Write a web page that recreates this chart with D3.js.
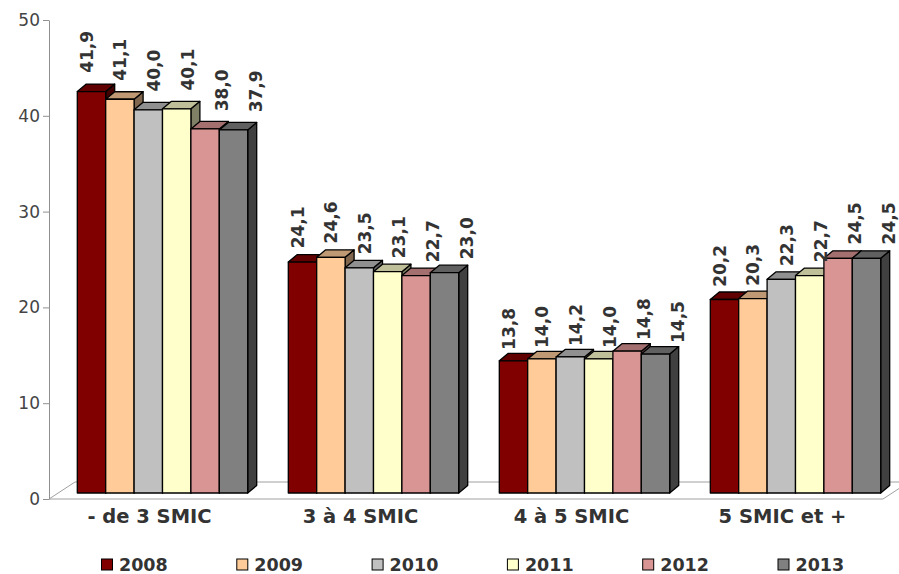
<!DOCTYPE html>
<html>
<head>
<meta charset="utf-8">
<script src="https://cdn.jsdelivr.net/npm/d3@7"></script>
<style>
  html, body { margin: 0; padding: 0; background: #fff; }
  svg { display: block; font-family: "DejaVu Sans", Verdana, sans-serif; }
</style>
</head>
<body>
<svg id="chart" width="899" height="574"></svg>
<script>
// Répartition par tranche de salaire (en % ), 2008 à 2013
const categories = ["- de 3 SMIC", "3 à 4 SMIC", "4 à 5 SMIC", "5 SMIC et +"];
const years = ["2008", "2009", "2010", "2011", "2012", "2013"];
const colors = ["#800000", "#FFCC99", "#C0C0C0", "#FFFFCC", "#D99594", "#808080"];
const v2008 = [41.9, 24.1, 13.8, 20.2];
const v2009 = [41.1, 24.6, 14.0, 20.3];
const v2010 = [40.0, 23.5, 14.2, 22.3];
const v2011 = [40.1, 23.1, 14.0, 22.7];
const v2012 = [38.0, 22.7, 14.8, 24.5];
const v2013 = [37.9, 23.0, 14.5, 24.5];
const yTicks = [0, 10, 20, 30, 40, 50];

const series = [v2008, v2009, v2010, v2011, v2012, v2013];

const svg = d3.select("#chart");

// Scales
const y = d3.scaleLinear().domain([0, 50]).range([499, 20]);
const x = d3.scaleBand().domain(categories).range([44, 888]);
const xIn = d3.scaleBand().domain(years).range([33.3, 33.3 + 170.4]);
// labels sit on the projected top of each column
const xLab = d3.scaleLinear().domain([0, 5]).range([42.5, 42.5 + 169]);
const yLab = d3.scaleLinear().domain([0, 50]).range([486, 486 - 493]);

// 3D depth of the floor and of the columns
const floorDx = 26, floorDy = -17;
const barDx = 9, barDy = -7.5;
const barLift = 6;

function shade(c, k) {
  const r = d3.rgb(c);
  return d3.rgb(r.r * k, r.g * k, r.b * k).formatHex();
}

// Floor
const fx0 = 49, fx1 = 883, fy = y(0);
svg.append("path")
  .attr("d", `M${fx0},${fy} L${fx1},${fy} L${fx1 + floorDx},${fy + floorDy} L${fx0 + floorDx},${fy + floorDy} Z`)
  .attr("fill", "none")
  .attr("stroke", "#a0a0a0")
  .attr("stroke-width", 1);

// Value axis
const axis = svg.append("g")
  .attr("transform", "translate(49,0)")
  .call(d3.axisLeft(y).tickValues(yTicks).tickSize(6).tickPadding(3).tickSizeOuter(0));
axis.select(".domain").attr("stroke", "#909090");
axis.selectAll(".tick line").attr("stroke", "#909090");
axis.selectAll(".tick text")
  .attr("font-size", "17px")
  .attr("fill", "#444")
  .attr("font-family", "DejaVu Sans, Verdana, sans-serif");

// Columns
const bars = svg.append("g");
categories.forEach((cat, ci) => {
  years.forEach((yr, si) => {
    const v = series[si][ci];
    const x0 = x(cat) + xIn(yr);
    const w = xIn.bandwidth();
    const yt = y(v) - barLift;
    const yb = y(0) - barLift;
    const col = colors[si];
    const g = bars.append("g")
      .attr("stroke", "#000")
      .attr("stroke-width", 1.3)
      .attr("stroke-linejoin", "round");
    // right side
    g.append("path")
      .attr("d", `M${x0 + w},${yt} L${x0 + w + barDx},${yt + barDy} L${x0 + w + barDx},${yb + barDy} L${x0 + w},${yb} Z`)
      .attr("fill", shade(col, 0.5));
    // top
    g.append("path")
      .attr("d", `M${x0},${yt} L${x0 + barDx},${yt + barDy} L${x0 + w + barDx},${yt + barDy} L${x0 + w},${yt} Z`)
      .attr("fill", shade(col, 0.75));
    // front
    g.append("rect")
      .attr("x", x0).attr("y", yt)
      .attr("width", w).attr("height", yb - yt)
      .attr("fill", col);
  });
});

// Value labels
const labels = svg.append("g")
  .attr("font-size", "17px")
  .attr("font-weight", "bold")
  .attr("fill", "#333");
categories.forEach((cat, ci) => {
  years.forEach((yr, si) => {
    const v = series[si][ci];
    const lx = x(cat) + xLab(si);
    const ly = yLab(v);
    labels.append("text")
      .attr("transform", `translate(${lx},${ly}) rotate(-90)`)
      .attr("dominant-baseline", "central")
      .attr("text-anchor", "start")
      .text(d3.format(".1f")(v).replace(".", ","));
  });
});

// Category labels
svg.append("g")
  .selectAll("text")
  .data(categories)
  .join("text")
  .attr("x", d => x(d) + x.bandwidth() / 2)
  .attr("y", 523)
  .attr("text-anchor", "middle")
  .attr("font-size", "19.5px")
  .attr("font-weight", "bold")
  .attr("fill", "#333")
  .text(d => d);

// Legend
const legend = svg.append("g");
const lx = d3.scaleLinear().domain([0, 5]).range([101.5, 778]);
years.forEach((yr, i) => {
  const g = legend.append("g").attr("transform", `translate(${lx(i)},559)`);
  g.append("rect")
    .attr("width", 11).attr("height", 11)
    .attr("fill", colors[i])
    .attr("stroke", "#000")
    .attr("stroke-width", 1);
  g.append("text")
    .attr("x", 17.5)
    .attr("y", 12)
    .attr("font-size", "17.5px")
    .attr("font-weight", "bold")
    .attr("fill", "#333")
    .text(yr);
});
</script>
</body>
</html>
